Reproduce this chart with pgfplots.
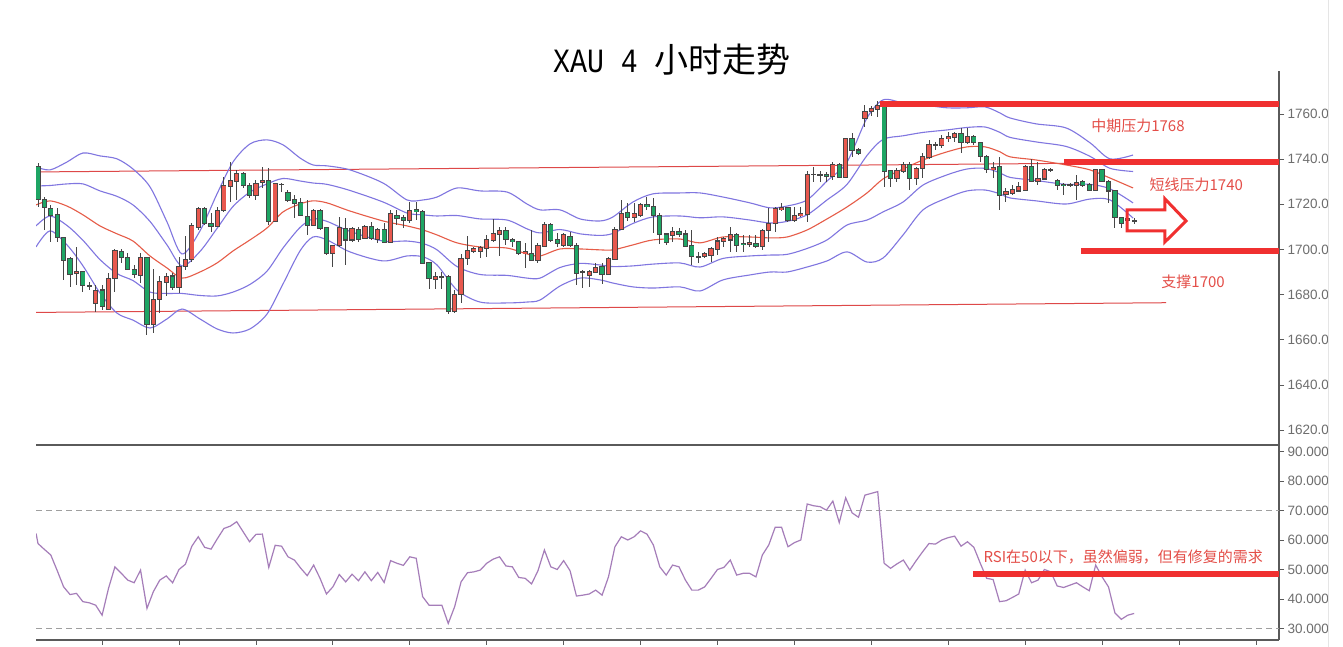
\documentclass[border=0pt]{standalone}
\usepackage{graphicx}
\usepackage{pgfplots}
\pgfplotsset{compat=1.18}
\usepackage{pgfplotstable}
\usepackage{fontspec}
\setmainfont{Liberation Sans}
\newfontfamily\cjk{Noto Sans CJK SC}
\newfontfamily\titlemono{Liberation Mono}
\definecolor{upred}{RGB}{232,88,78}
\definecolor{dngreen}{RGB}{30,165,100}
\definecolor{wick}{RGB}{70,70,70}
\definecolor{bband}{RGB}{128,118,224}
\definecolor{mband}{RGB}{230,92,72}
\definecolor{chan}{RGB}{222,72,72}
\definecolor{thickred}{RGB}{240,48,48}
\definecolor{anno}{RGB}{228,78,72}
\definecolor{rsic}{RGB}{165,125,185}
\definecolor{axc}{RGB}{90,90,90}
\definecolor{labc}{RGB}{110,110,110}

\pgfplotstableread{
i O H L C
6 1689.5 1701.2 1684.2 1690.3
8 1683.8 1685.7 1682.0 1683.8
9 1676.1 1684.2 1672.4 1681.7
11 1673.6 1689.4 1673.1 1687.2
12 1687.2 1700.0 1681.3 1699.4
16 1688.7 1698.2 1685.0 1696.3
18 1666.8 1691.2 1663.1 1677.9
19 1677.9 1688.2 1672.0 1685.7
20 1685.3 1689.7 1679.3 1688.2
22 1683.2 1696.8 1680.5 1692.3
23 1692.6 1706.0 1691.0 1695.6
24 1695.6 1711.5 1694.5 1710.4
25 1709.8 1718.9 1708.6 1717.9
28 1710.1 1718.6 1709.8 1717.2
29 1717.2 1732.2 1716.7 1728.1
30 1727.8 1738.9 1721.1 1730.5
31 1730.0 1735.2 1721.9 1733.7
34 1724.1 1730.7 1721.9 1729.3
35 1729.6 1736.4 1727.0 1730.7
37 1712.3 1729.5 1712.0 1729.0
38 1728.8 1729.3 1725.6 1728.8
43 1710.8 1717.9 1710.4 1717.4
46 1698.2 1701.9 1692.3 1701.6
47 1701.6 1714.5 1701.2 1709.8
49 1704.2 1710.1 1703.4 1709.3
51 1704.9 1710.8 1704.5 1710.1
53 1704.5 1709.3 1702.7 1709.0
55 1703.0 1717.4 1702.7 1715.7
58 1713.0 1721.1 1711.5 1717.4
62 1686.7 1690.1 1682.3 1688.2
63 1687.9 1690.1 1682.7 1687.9
65 1672.4 1682.0 1671.7 1680.2
66 1680.2 1698.0 1676.1 1696.0
67 1696.0 1705.9 1693.1 1699.7
68 1699.3 1701.0 1698.5 1700.5
69 1699.3 1701.5 1696.3 1700.8
70 1700.5 1706.4 1696.8 1704.2
71 1703.9 1713.3 1703.4 1707.1
72 1706.8 1710.1 1697.1 1708.3
76 1698.2 1702.7 1691.6 1699.0
78 1695.3 1702.7 1694.1 1701.9
79 1701.2 1712.3 1700.9 1710.8
82 1701.9 1707.1 1701.2 1706.4
85 1689.7 1690.9 1682.7 1690.1
86 1688.6 1690.9 1683.5 1690.1
87 1689.7 1694.1 1689.4 1692.0
89 1689.1 1696.8 1688.6 1696.0
90 1695.6 1710.1 1695.3 1708.9
91 1708.9 1721.9 1708.6 1716.0
93 1714.2 1720.7 1712.3 1715.7
94 1715.2 1720.7 1714.2 1719.7
99 1706.4 1710.1 1703.4 1707.8
103 1696.8 1699.0 1693.8 1696.8
104 1696.8 1699.0 1696.0 1698.3
105 1697.2 1701.2 1694.3 1700.5
106 1700.2 1705.6 1697.5 1703.7
107 1703.4 1705.6 1701.2 1704.6
108 1704.2 1710.0 1699.0 1706.7
111 1702.3 1706.4 1701.2 1703.1
113 1701.2 1709.0 1699.7 1708.2
114 1708.2 1718.2 1703.4 1711.5
115 1711.5 1718.9 1707.8 1718.2
116 1717.5 1720.4 1717.0 1718.5
118 1713.0 1718.9 1712.3 1715.2
119 1714.9 1718.9 1714.5 1716.0
120 1715.5 1734.7 1712.3 1733.3
121 1733.3 1736.7 1730.0 1733.3
122 1733.0 1734.7 1730.0 1733.0
124 1732.2 1738.9 1730.7 1737.7
126 1731.8 1749.2 1731.5 1748.9
129 1758.1 1764.0 1754.4 1761.0
130 1761.0 1763.7 1759.3 1762.2
131 1762.2 1765.5 1758.8 1763.7
134 1731.5 1735.9 1730.0 1734.7
135 1734.4 1738.9 1734.0 1737.4
137 1731.5 1736.7 1728.5 1735.9
138 1735.9 1742.6 1731.5 1741.1
139 1740.6 1748.5 1740.0 1746.6
140 1746.3 1747.7 1744.0 1746.3
141 1746.0 1750.7 1744.8 1749.2
142 1749.2 1752.2 1747.7 1749.9
143 1749.5 1752.2 1747.7 1751.4
145 1747.4 1753.6 1746.6 1749.9
149 1735.2 1738.9 1731.5 1736.2
151 1724.4 1727.0 1721.1 1725.6
152 1724.8 1728.5 1724.1 1726.3
153 1725.9 1730.0 1725.6 1727.8
154 1726.3 1737.4 1725.9 1736.7
156 1730.0 1738.5 1728.5 1731.2
157 1731.2 1735.9 1730.7 1735.2
158 1735.2 1736.2 1734.2 1735.2
161 1728.5 1729.5 1727.5 1728.5
162 1728.2 1733.0 1721.9 1729.7
165 1726.3 1735.6 1725.9 1735.2
170 1713.0 1714.0 1712.5 1713.7
171 1712.6 1714.1 1711.1 1712.6
}\upc

\pgfplotstableread{
i O H L C
0 1736.9 1738.1 1718.9 1722.2
1 1721.9 1723.4 1708.6 1718.6
2 1718.2 1719.7 1703.4 1715.2
3 1715.5 1718.2 1703.4 1705.3
4 1705.3 1705.6 1686.4 1695.0
5 1696.0 1696.8 1683.5 1689.1
7 1690.3 1690.6 1681.0 1683.9
10 1682.0 1684.2 1673.1 1674.6
13 1699.0 1700.0 1693.8 1696.5
14 1696.3 1698.2 1690.9 1691.2
15 1691.2 1693.0 1687.2 1688.9
17 1696.3 1696.5 1662.1 1666.8
21 1688.2 1689.7 1682.0 1683.2
26 1717.9 1718.9 1710.8 1711.5
27 1711.5 1716.0 1707.8 1710.4
32 1733.4 1734.4 1727.0 1728.5
33 1728.5 1729.3 1722.6 1723.8
36 1730.7 1735.9 1710.8 1712.6
39 1725.3 1726.3 1721.0 1721.6
40 1721.9 1724.1 1713.8 1720.4
41 1720.7 1722.6 1714.8 1715.2
42 1714.5 1721.9 1706.4 1710.8
44 1717.4 1717.7 1708.6 1709.3
45 1709.6 1710.0 1697.5 1698.2
48 1709.3 1713.8 1693.1 1704.2
50 1709.0 1710.1 1703.4 1704.5
52 1710.1 1712.3 1704.2 1704.9
54 1709.0 1711.5 1702.7 1703.0
56 1715.1 1717.4 1710.8 1713.8
57 1714.0 1715.2 1709.3 1713.0
59 1717.7 1721.1 1713.0 1716.7
60 1716.7 1717.4 1693.5 1693.8
61 1694.1 1694.5 1682.3 1687.2
64 1687.9 1688.6 1671.4 1672.4
73 1708.3 1710.1 1702.0 1704.5
74 1704.2 1704.9 1700.9 1703.4
75 1703.4 1703.7 1697.5 1698.2
77 1698.2 1708.6 1695.0 1695.3
80 1710.8 1711.5 1703.4 1703.9
81 1704.2 1707.1 1700.9 1702.7
83 1705.9 1707.8 1700.9 1701.9
84 1701.9 1702.7 1684.2 1689.4
88 1692.3 1693.8 1684.7 1689.1
92 1716.3 1720.7 1712.7 1714.2
95 1719.7 1723.4 1717.4 1718.9
96 1718.9 1722.6 1707.1 1715.2
97 1715.2 1716.0 1702.4 1706.8
98 1706.8 1707.4 1702.0 1703.0
100 1707.8 1709.3 1705.6 1706.8
101 1706.8 1708.6 1701.2 1701.5
102 1701.9 1708.6 1693.1 1696.8
109 1706.7 1707.1 1699.0 1701.7
110 1702.7 1706.4 1699.0 1702.0
112 1702.7 1706.4 1700.5 1701.5
117 1718.5 1718.9 1712.3 1713.0
123 1733.3 1734.1 1730.0 1732.2
125 1737.7 1738.1 1731.5 1731.8
127 1748.9 1751.4 1741.1 1744.0
128 1744.0 1744.8 1741.8 1742.6
132 1763.3 1764.7 1727.8 1734.4
133 1734.7 1735.2 1727.8 1731.5
136 1737.7 1738.9 1726.3 1731.5
144 1751.4 1753.6 1742.6 1747.4
146 1749.9 1750.7 1746.3 1747.4
147 1747.4 1747.7 1738.9 1741.1
148 1741.1 1741.8 1733.7 1735.2
150 1736.7 1741.1 1717.4 1724.1
155 1736.7 1740.0 1729.7 1730.0
159 1730.7 1731.2 1726.3 1728.5
160 1728.8 1729.3 1724.1 1728.2
163 1730.0 1730.7 1727.8 1728.5
164 1728.8 1729.3 1725.9 1726.3
166 1735.2 1735.6 1729.7 1730.0
167 1730.0 1730.7 1720.4 1725.9
168 1725.9 1726.3 1709.4 1714.1
169 1714.1 1714.5 1709.4 1711.6
}\dnc

\pgfplotstableread{
i U2 U1 M L1 L2
-0.31 1736.5 1728.1 1719.7 1710.4 1701.1
1.87 1735.2 1728.3 1721.5 1714.8 1708.2
4.52 1738.7 1729.0 1719.2 1710.6 1702.0
7.02 1742.7 1729.0 1715.3 1704.0 1692.7
9.67 1741.4 1725.9 1710.4 1695.5 1680.7
12.32 1740.1 1723.5 1706.9 1689.3 1671.8
14.82 1735.6 1719.7 1703.7 1686.2 1668.7
17.47 1727.7 1712.4 1697.1 1681.1 1665.2
20.12 1712.2 1702.0 1691.8 1680.5 1669.2
22.46 1698.0 1692.7 1687.3 1680.5 1673.6
25.27 1708.2 1699.1 1690.0 1679.6 1669.2
27.93 1724.6 1709.3 1694.0 1679.4 1664.8
30.42 1738.7 1719.0 1699.3 1681.1 1663.0
33.07 1746.7 1725.4 1704.2 1684.5 1664.8
35.73 1748.5 1729.0 1709.5 1690.4 1671.4
38.22 1746.3 1731.4 1716.6 1700.6 1684.7
40.87 1740.5 1730.3 1720.1 1709.7 1699.3
42.90 1737.4 1729.4 1721.5 1713.5 1705.5
45.09 1737.0 1728.8 1720.6 1712.4 1704.2
48.67 1735.2 1726.1 1717.0 1708.0 1698.9
53.82 1729.4 1721.0 1712.6 1703.7 1694.9
57.57 1721.9 1716.1 1710.4 1703.7 1697.1
60.06 1721.9 1715.3 1708.6 1702.6 1696.7
62.25 1723.2 1714.8 1706.4 1699.8 1693.1
65.37 1727.2 1715.0 1702.9 1692.4 1682.0
68.95 1725.9 1713.5 1701.1 1688.9 1676.7
73.17 1725.4 1713.0 1700.6 1688.5 1676.3
76.29 1720.1 1709.1 1698.0 1687.3 1676.7
78.32 1717.5 1707.3 1697.1 1687.3 1677.6
81.44 1717.5 1708.8 1700.2 1692.0 1683.8
84.56 1713.5 1706.9 1700.2 1693.8 1687.3
87.68 1712.6 1706.2 1699.8 1693.1 1686.5
89.70 1714.4 1707.1 1699.8 1692.4 1685.1
92.82 1721.0 1711.5 1702.0 1692.7 1683.4
95.94 1724.6 1714.4 1704.2 1693.5 1682.9
100.16 1725.0 1714.8 1704.6 1694.0 1683.4
103.28 1725.0 1714.0 1702.9 1692.2 1681.6
106.86 1723.2 1714.4 1705.5 1696.0 1686.5
111.08 1720.6 1713.0 1705.5 1697.1 1688.7
114.20 1718.4 1711.7 1705.1 1697.5 1690.0
116.85 1719.2 1712.4 1705.5 1697.8 1690.0
119.97 1721.9 1715.3 1708.6 1700.4 1692.2
123.09 1730.3 1721.9 1713.5 1704.2 1694.9
126.21 1738.7 1728.8 1718.8 1710.8 1698.9
129.33 1758.2 1741.6 1725.0 1713.0 1694.4
131.83 1766.2 1748.7 1731.2 1716.6 1696.2
134.95 1764.9 1750.3 1735.6 1721.0 1706.4
138.07 1764.0 1751.8 1739.6 1728.5 1717.5
141.81 1762.7 1752.9 1743.2 1733.0 1722.8
144.93 1762.7 1754.0 1745.4 1735.6 1725.9
147.74 1763.1 1754.2 1745.4 1735.9 1726.3
150.08 1760.4 1751.8 1743.2 1733.9 1724.6
151.64 1758.2 1749.6 1741.0 1731.9 1722.8
155.69 1755.6 1747.6 1739.6 1730.5 1721.5
160.37 1753.8 1745.6 1737.4 1728.8 1720.1
164.12 1747.2 1741.2 1735.2 1728.8 1722.3
167.24 1740.1 1735.9 1731.6 1726.8 1721.9
170.83 1741.8 1734.5 1727.2 1720.6 1713.9
}\bands

\pgfplotstableread{
i r
-0.3 62.3
0 58.9
1 56.9
2 55.0
3 49.7
4 44.2
5 41.6
6 42.0
7 39.2
8 38.8
9 38.0
10 34.6
11 43.7
12 51.0
13 48.8
14 46.5
15 45.6
16 49.9
17 36.9
18 42.6
19 46.5
20 47.9
21 45.6
22 50.1
23 51.9
24 58.0
25 61.2
26 57.6
27 57.0
28 60.6
29 64.0
30 64.8
31 66.3
32 62.9
33 59.5
34 62.0
35 62.1
36 50.8
37 58.3
38 58.0
39 54.4
40 53.3
41 50.5
42 48.0
43 51.6
44 47.1
45 41.8
46 44.2
47 48.4
48 45.9
49 48.5
50 46.3
51 49.3
52 46.3
53 49.1
54 45.7
55 53.1
56 52.2
57 51.5
58 54.4
59 53.9
60 40.9
61 38.0
62 38.0
63 38.0
64 31.8
65 37.5
66 45.9
67 49.0
68 49.3
69 49.9
70 52.2
71 53.6
72 54.4
73 51.3
74 51.0
75 47.4
76 47.1
77 45.2
78 49.7
79 56.7
80 51.0
81 50.1
82 53.1
83 49.7
84 41.1
85 41.4
86 41.8
87 43.1
88 41.4
89 47.6
90 57.8
91 61.2
92 60.1
93 61.2
94 63.2
95 62.1
96 58.4
97 51.0
98 48.2
99 51.6
100 51.0
101 46.5
102 43.1
103 43.1
104 44.2
105 47.1
106 50.1
107 50.8
108 53.3
109 48.2
110 48.8
111 48.8
112 47.6
113 55.0
114 58.4
115 64.4
116 64.4
117 57.8
118 59.2
119 60.1
120 72.3
121 71.7
122 71.4
123 70.2
124 73.3
125 66.0
126 74.4
127 69.3
128 67.8
129 75.3
130 75.9
131 76.5
132 52.2
133 50.5
134 52.0
135 53.3
136 49.9
137 53.1
138 56.1
139 58.9
140 58.7
141 60.1
142 60.9
143 61.4
144 58.0
145 59.5
146 57.6
147 52.2
148 47.1
149 46.7
150 39.2
151 39.5
152 40.6
153 41.8
154 49.9
155 45.6
156 46.5
157 50.1
158 49.3
159 44.5
160 44.0
161 44.8
162 45.6
163 44.2
164 42.9
165 51.6
166 47.6
167 44.2
168 35.4
169 33.2
170 34.6
171 35.2
}\rsi

\pgfplotsset{
  wickstyle/.style={draw=none, mark=none, forget plot,
    error bars/.cd, y dir=both, y explicit, error mark=none,
    error bar style={draw=wick, line width=1pt, line cap=butt}},
  bodyborder/.style={draw=none, mark=none, forget plot,
    error bars/.cd, y dir=both, y explicit, error mark=none,
    error bar style={draw=wick, line width=5.2pt, line cap=butt}},
  bodyfill/.style={draw=none, mark=none, forget plot,
    error bars/.cd, y dir=both, y explicit, error mark=none,
    error bar style={draw=#1, line width=3.4pt, line cap=butt}},
}

\begin{document}
\begin{tikzpicture}
\useasboundingbox (0,0) rectangle (1343pt,647pt);
\fill[white] (0,0) rectangle (1343pt,647pt);

\node[anchor=base west, inner sep=0pt, font=\fontsize{34}{36}\selectfont, text=black] at (553pt,574pt) {\scalebox{0.83}[1]{\titlemono XAU 4 }{\cjk 小时走势}};

\begin{axis}[
  at={(36pt,202pt)}, anchor=south west, scale only axis,
  width=1243pt, height=374pt,
  xmin=-0.312, xmax=193.6, ymin=1613.4, ymax=1779,
  axis x line*=bottom, axis y line*=right,
  axis line style={draw=axc, line width=1.2pt},
  xtick=\empty,
  ytick={1620,1640,...,1760},
  ytick align=outside, major tick length=5pt,
  tick style={draw=axc, line width=0.8pt},
  yticklabel style={font=\fontsize{13.5}{14}\selectfont, text=labc,
    /pgf/number format/.cd, fixed, fixed zerofill, precision=2, 1000 sep={}, assume math mode=true},
]
% channel lines
\addplot[chan, line width=1pt, forget plot] coordinates {(-0.31,1734.3) (160.2,1738.1)};
\addplot[chan, line width=1pt, forget plot] coordinates {(-0.31,1672.1) (176.0,1676.4)};
% bands
\addplot[bband, line width=1.1pt, smooth] table[x=i, y=U2] {\bands};
\addplot[bband, line width=1.1pt, smooth] table[x=i, y=U1] {\bands};
\addplot[mband, line width=1.1pt, smooth] table[x=i, y=M] {\bands};
\addplot[bband, line width=1.1pt, smooth] table[x=i, y=L1] {\bands};
\addplot[bband, line width=1.1pt, smooth] table[x=i, y=L2] {\bands};
% wicks
\addplot[wickstyle] table[x=i, y expr={(\thisrow{H}+\thisrow{L})/2}, y error expr={(\thisrow{H}-\thisrow{L})/2}] {\upc};
\addplot[wickstyle] table[x=i, y expr={(\thisrow{H}+\thisrow{L})/2}, y error expr={(\thisrow{H}-\thisrow{L})/2}] {\dnc};
% bodies
\addplot[bodyborder] table[x=i, y expr={(\thisrow{O}+\thisrow{C})/2}, y error expr={abs(\thisrow{C}-\thisrow{O})/2+0.25}] {\upc};
\addplot[bodyborder] table[x=i, y expr={(\thisrow{O}+\thisrow{C})/2}, y error expr={abs(\thisrow{C}-\thisrow{O})/2+0.25}] {\dnc};
\addplot[bodyfill=upred] table[x=i, y expr={(\thisrow{O}+\thisrow{C})/2}, y error expr={max(abs(\thisrow{C}-\thisrow{O})/2-0.2,0)}] {\upc};
\addplot[bodyfill=dngreen] table[x=i, y expr={(\thisrow{O}+\thisrow{C})/2}, y error expr={max(abs(\thisrow{C}-\thisrow{O})/2-0.2,0)}] {\dnc};
% resistance / support
\addplot[thickred, line width=6pt, forget plot] coordinates {(131.4,1764.4) (193.6,1764.4)};
\addplot[thickred, line width=6pt, forget plot] coordinates {(160.1,1738.7) (193.6,1738.7)};
\addplot[thickred, line width=6pt, forget plot] coordinates {(162.7,1699.3) (193.6,1699.3)};
% arrow
\draw[thickred, line width=3pt, line join=miter] (axis cs:169.9,1717.5) -- (axis cs:175.8,1717.5) -- (axis cs:175.8,1722.4) -- (axis cs:179.1,1712.6) -- (axis cs:175.8,1703.3) -- (axis cs:175.8,1708.2) -- (axis cs:169.9,1708.2) -- cycle;
% labels
\node[text=anno, font=\cjk\fontsize{15}{15}\selectfont] at (axis cs:171.6,1754.8) {中期压力1768};
\node[text=anno, font=\cjk\fontsize{15}{15}\selectfont] at (axis cs:180.7,1728.6) {短线压力1740};
\node[text=anno, font=\cjk\fontsize{15}{15}\selectfont] at (axis cs:180.2,1685.6) {支撑1700};
\end{axis}

\begin{axis}[
  at={(36pt,7pt)}, anchor=south west, scale only axis,
  width=1243pt, height=195pt,
  xmin=-0.312, xmax=193.6, ymin=26.2, ymax=92.3,
  axis x line*=bottom, axis y line*=right,
  axis line style={draw=axc, line width=1.2pt},
  xtick={10,22,...,190}, xticklabels={},
  xtick align=outside, ytick align=outside, major tick length=5pt,
  tick style={draw=axc, line width=0.8pt},
  ytick={30,40,...,90},
  yticklabel style={font=\fontsize{13.5}{14}\selectfont, text=labc,
    /pgf/number format/.cd, fixed, fixed zerofill, precision=4, 1000 sep={}, assume math mode=true},
]
\addplot[gray!75, line width=1pt, dash pattern=on 6pt off 4pt, forget plot] coordinates {(-0.312,70) (193.6,70)};
\addplot[gray!75, line width=1pt, dash pattern=on 6pt off 4pt, forget plot] coordinates {(-0.312,30) (193.6,30)};
\addplot[rsic, line width=1.2pt] table[x=i, y=r] {\rsi};
\addplot[thickred, line width=6pt, forget plot] coordinates {(145.9,48.5) (193.6,48.5)};
\node[text=anno, font=\cjk\fontsize{15}{15}\selectfont] at (axis cs:169.3,54.2) {RSI在50以下，虽然偏弱，但有修复的需求};
\end{axis}

\fill[white] (1328pt,0) rectangle (1343pt,647pt);
\draw[gray!20, line width=1.2pt] (1328.5pt,0) -- (1328.5pt,647pt);
\end{tikzpicture}
\end{document}
